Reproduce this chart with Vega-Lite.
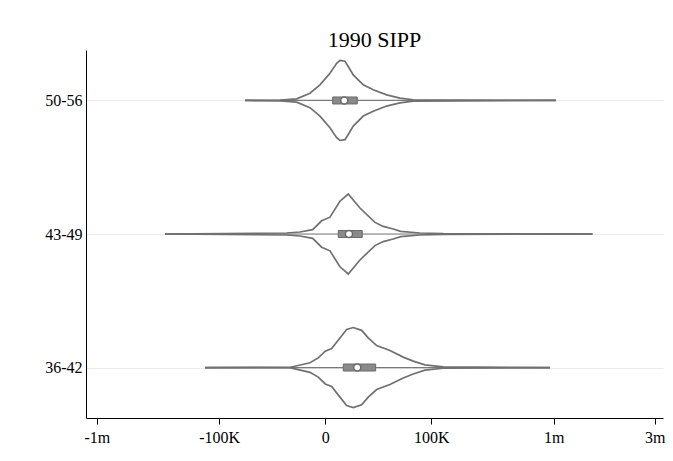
{
  "$schema": "https://vega.github.io/schema/vega-lite/v6.json",
  "width": 577,
  "height": 368,
  "autosize": "none",
  "padding": {"left": 86, "top": 50, "right": 10, "bottom": 43},
  "background": "white",
  "title": {"text": "1990 SIPP", "font": "Liberation Serif", "fontSize": 22, "fontWeight": "normal", "color": "#000000", "anchor": "middle", "baseline": "alphabetic", "offset": 2, "dy": 21},
  "config": {"view": {"stroke": null}},
  "datasets": {
    "dens": [
      {"group": "50-56", "value": -43400, "density": 0},
      {"group": "50-56", "value": -7790, "density": 0.01},
      {"group": "50-56", "value": -1961, "density": 0.042},
      {"group": "50-56", "value": -300, "density": 0.18},
      {"group": "50-56", "value": -12.5, "density": 0.39},
      {"group": "50-56", "value": 8.7, "density": 0.68},
      {"group": "50-56", "value": 124, "density": 0.93},
      {"group": "50-56", "value": 266, "density": 1.0},
      {"group": "50-56", "value": 641, "density": 0.98},
      {"group": "50-56", "value": 1020, "density": 0.85},
      {"group": "50-56", "value": 1840, "density": 0.64},
      {"group": "50-56", "value": 4600, "density": 0.39},
      {"group": "50-56", "value": 9265, "density": 0.27},
      {"group": "50-56", "value": 19400, "density": 0.14},
      {"group": "50-56", "value": 34940, "density": 0.06},
      {"group": "50-56", "value": 57120, "density": 0.018},
      {"group": "50-56", "value": 1029000, "density": 0},
      {"group": "43-49", "value": -345200, "density": 0},
      {"group": "43-49", "value": -4820, "density": 0.025},
      {"group": "43-49", "value": -1357, "density": 0.05},
      {"group": "43-49", "value": -168, "density": 0.11},
      {"group": "43-49", "value": -3.9, "density": 0.33},
      {"group": "43-49", "value": 8.7, "density": 0.42},
      {"group": "43-49", "value": 266, "density": 0.82},
      {"group": "43-49", "value": 1020, "density": 1.0},
      {"group": "43-49", "value": 3502, "density": 0.65},
      {"group": "43-49", "value": 10290, "density": 0.29},
      {"group": "43-49", "value": 16350, "density": 0.19},
      {"group": "43-49", "value": 26360, "density": 0.125},
      {"group": "43-49", "value": 35940, "density": 0.067},
      {"group": "43-49", "value": 71180, "density": 0.025},
      {"group": "43-49", "value": 137700, "density": 0.008},
      {"group": "43-49", "value": 1602000, "density": 0},
      {"group": "36-42", "value": -145900, "density": 0},
      {"group": "36-42", "value": -3688, "density": 0.005},
      {"group": "36-42", "value": -2331, "density": 0.033},
      {"group": "36-42", "value": -300, "density": 0.12},
      {"group": "36-42", "value": -28.7, "density": 0.24},
      {"group": "36-42", "value": 0, "density": 0.41},
      {"group": "36-42", "value": 22, "density": 0.475},
      {"group": "36-42", "value": 266, "density": 0.74},
      {"group": "36-42", "value": 822, "density": 0.95},
      {"group": "36-42", "value": 1840, "density": 1.0},
      {"group": "36-42", "value": 4043, "density": 0.93},
      {"group": "36-42", "value": 6665, "density": 0.74},
      {"group": "36-42", "value": 11380, "density": 0.55},
      {"group": "36-42", "value": 22700, "density": 0.425},
      {"group": "36-42", "value": 39790, "density": 0.26},
      {"group": "36-42", "value": 57120, "density": 0.16},
      {"group": "36-42", "value": 83070, "density": 0.067},
      {"group": "36-42", "value": 137700, "density": 0.018},
      {"group": "36-42", "value": 951000, "density": 0}
    ],
    "stats": [
      {"group": "50-56", "min": -43400, "q1": 34, "median": 575, "q3": 2746, "max": 1029000},
      {"group": "43-49", "min": -345200, "q1": 184, "median": 1116, "q3": 4245, "max": 1602000},
      {"group": "36-42", "min": -145900, "q1": 489, "median": 2746, "q3": 10730, "max": 951000}
    ]
  },
  "encoding": {
    "y": {
      "field": "group", "type": "nominal",
      "sort": ["50-56", "43-49", "36-42"],
      "scale": {"type": "point", "padding": 0.378},
      "axis": {"title": null, "grid": true, "gridColor": "#ebebeb", "gridWidth": 1, "ticks": false, "labelPadding": 4, "labelFont": "Liberation Serif", "labelFontSize": 16, "labelColor": "#000000", "domainColor": "#000000", "domainWidth": 1}
    }
  },
  "layer": [
    {
      "data": {"name": "stats"},
      "mark": {"type": "rule", "stroke": "#7a7a7a", "strokeWidth": 1.2},
      "encoding": {
        "x": {"field": "min", "type": "quantitative"},
        "x2": {"field": "max"}
      }
    },
    {
      "data": {"name": "dens"},
      "mark": {"type": "line", "stroke": "#707070", "strokeWidth": 1.7, "interpolate": "linear"},
      "encoding": {
        "x": {"field": "value", "type": "quantitative",
          "scale": {"type": "pow", "exponent": 0.3333333333, "domain": [-1149000, 3232000], "nice": false, "zero": false},
          "axis": {"title": null, "grid": false, "values": [-1000000, -100000, 0, 100000, 1000000, 3000000],
            "labelExpr": "datum.value == -1000000 ? '-1m' : datum.value == -100000 ? '-100K' : datum.value == 0 ? '0' : datum.value == 100000 ? '100K' : datum.value == 1000000 ? '1m' : '3m'",
            "labelFont": "Liberation Serif", "labelFontSize": 16, "labelColor": "#000000", "tickColor": "#000000", "tickSize": 6, "labelPadding": 5, "domainColor": "#000000", "domainWidth": 1, "labelFlush": false, "labelOverlap": false}},
        "yOffset": {"field": "density", "type": "quantitative", "scale": {"domain": [0, 1], "range": [0, -40]}},
        "detail": {"field": "group"},
        "order": {"field": "value", "type": "quantitative"}
      }
    },
    {
      "data": {"name": "dens"},
      "mark": {"type": "line", "stroke": "#707070", "strokeWidth": 1.7, "interpolate": "linear"},
      "encoding": {
        "x": {"field": "value", "type": "quantitative"},
        "yOffset": {"field": "density", "type": "quantitative", "scale": {"domain": [0, 1], "range": [0, 40]}},
        "detail": {"field": "group"},
        "order": {"field": "value", "type": "quantitative"}
      }
    },
    {
      "data": {"name": "stats"},
      "mark": {"type": "bar", "height": 7, "fill": "#8a8a8a", "stroke": "#6a6a6a", "strokeWidth": 1},
      "encoding": {
        "x": {"field": "q1", "type": "quantitative"},
        "x2": {"field": "q3"}
      }
    },
    {
      "data": {"name": "stats"},
      "mark": {"type": "point", "shape": "circle", "filled": true, "fill": "#ffffff", "stroke": "#6a6a6a", "strokeWidth": 1.5, "size": 50, "opacity": 1},
      "encoding": {
        "x": {"field": "median", "type": "quantitative"}
      }
    }
  ],
  "resolve": {"scale": {"yOffset": "independent"}}
}
